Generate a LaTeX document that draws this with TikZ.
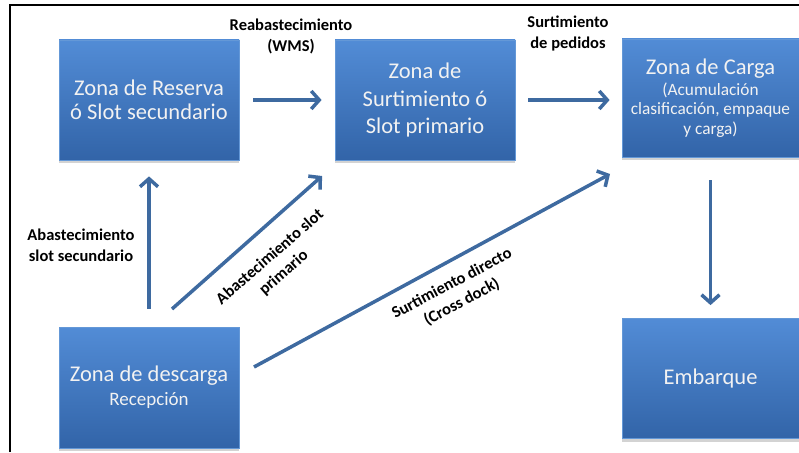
\documentclass[tikz,border=0pt]{standalone}
\usepackage{fontspec}
\setmainfont{Carlito}
\usetikzlibrary{arrows.meta,shadows,calc}
\definecolor{boxtop}{RGB}{82,140,214}
\definecolor{boxbot}{RGB}{50,100,168}
\definecolor{boxline}{RGB}{100,152,215}
\definecolor{arr}{RGB}{62,106,160}
\definecolor{boxtext}{RGB}{242,242,242}
\begin{document}
\begin{tikzpicture}[x=1pt,y=-1pt,
  zone/.style={rectangle, draw=boxline, line width=0.8pt, top color=boxtop, bottom color=boxbot,
    text=boxtext, align=center, inner sep=0pt, font=\fontsize{22.5}{24}\selectfont,
    drop shadow={shadow xshift=0pt,shadow yshift=-3pt,opacity=0.35}},
  flow/.style={draw=arr, line width=3.5pt, -{Straight Barb[length=8pt,width=18pt]}},
  lbl/.style={font=\bfseries\fontsize{16.5}{21}\selectfont, align=center, text=black}
]
\useasboundingbox (0,0) rectangle (799,452);
% frame
\draw[line width=2.5pt] (10,452) -- (10,5) -- (799,5);
% boxes
\node[zone, minimum width=180pt, minimum height=120pt] (res) at (149,100) {Zona de Reserva\\ó Slot secundario};
\node[zone, minimum width=180pt, minimum height=120pt, font=\fontsize{22.5}{27.5}\selectfont] (sur) at (425,100) {Zona de\\Surtimiento ó\\Slot primario};
\node[zone, minimum width=177pt, minimum height=118pt, font=\fontsize{17.3}{19.5}\selectfont] (carga) at (710.5,98)
  {{\fontsize{22.5}{22.5}\selectfont Zona de Carga}\\[1.5pt](Acumulación\\clasificación, empaque\\y carga)};
\node[zone, minimum width=180pt, minimum height=121pt] (desc) at (149,387.5) {Zona de descarga\\\fontsize{19}{23.5}\selectfont Recepción};
\node[zone, minimum width=177pt, minimum height=120pt] (emb) at (710.5,378.5) {Embarque};
% free ends of the diagonal connectors
\coordinate (a1) at (172,309);
\coordinate (b1) at (322,176);
\coordinate (a2) at (254,367);
\coordinate (b2) at (610,174);
% connectors
\draw[flow, shorten <=14pt, shorten >=13pt] (res.east) -- (sur.west);
\draw[flow, shorten <=13pt, shorten >=12pt] (sur.east) -- (sur.east -| carga.west);
\draw[flow, shorten <=18pt, shorten >=16pt] (desc.north) -- (res.south);
\draw[flow, shorten <=23pt, shorten >=13pt] (carga.south) -- (emb.north);
\draw[flow] (a1) -- (b1);
\draw[flow] (a2) -- (b2);
% labels
\node[lbl] (l1) at (291,36) {Reabastecimiento\\(WMS)};
\node[lbl] (l2) at (568,33) {Surtimiento\\de pedidos};
\node[lbl] (l3) at (81,245) {Abastecimiento\\slot secundario};
\node[lbl, rotate=41] (l4) at (277,265) {Abastecimiento slot\\primario};
\node[lbl, rotate=28] (l5) at (457,293) {Surtimiento directo\\(Cross dock)};
\end{tikzpicture}
\end{document}
